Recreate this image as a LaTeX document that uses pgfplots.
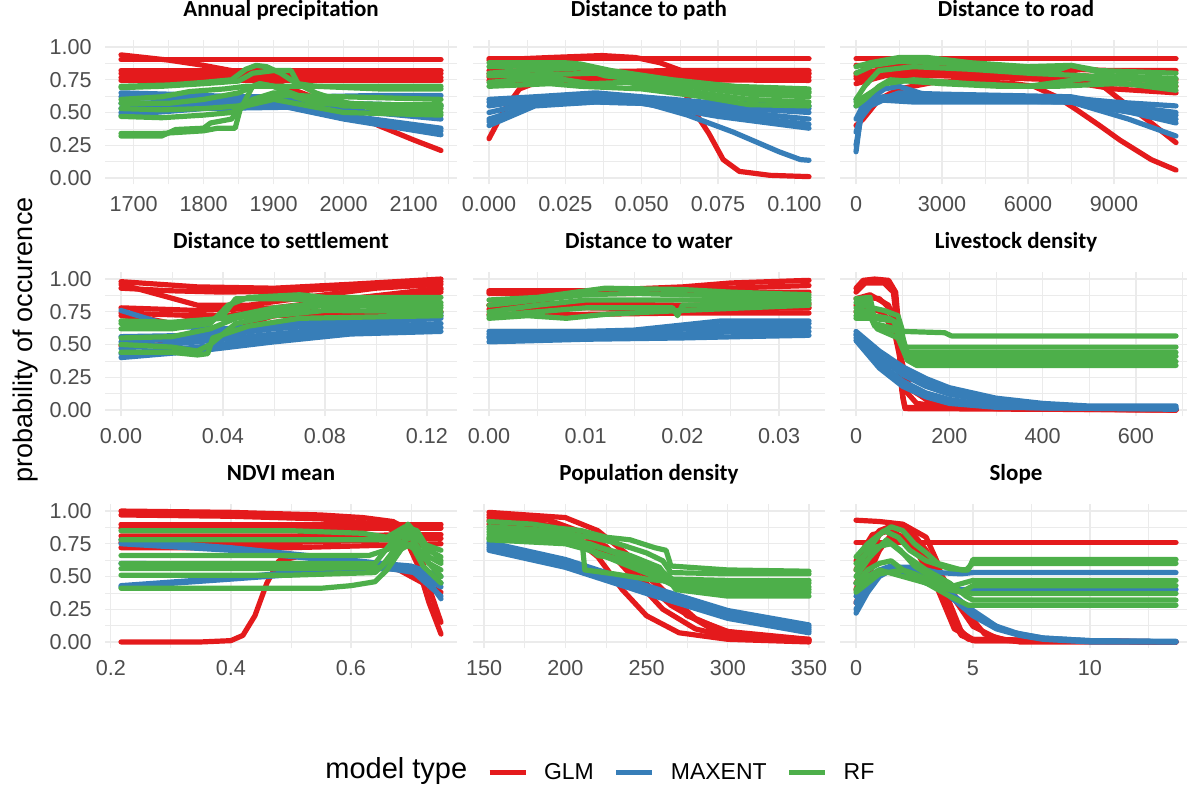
\documentclass[border=0pt]{standalone}
\usepackage{fontspec}
\setmainfont{Liberation Sans}
\newfontfamily\carlito{Carlito}
\usepackage{pgfplots}
\pgfplotsset{compat=1.18}
\definecolor{glmred}{HTML}{E41A1C}
\definecolor{mxblue}{HTML}{377EB8}
\definecolor{rfgreen}{HTML}{4DAF4A}
\definecolor{gridc}{HTML}{EBEBEB}
\definecolor{tickc}{HTML}{4D4D4D}
\pgfplotsset{
 facet/.style={
  width=176pt,height=72pt,scale only axis,anchor=south west,
  axis line style={draw=none}, tick style={draw=none},
  scaled x ticks=false, scaled y ticks=false,
  ymin=-0.05,ymax=1.05,
  ytick={0,0.25,0.5,0.75,1}, minor ytick={0.125,0.375,0.625,0.875},
  yticklabels={},
  grid=both,
  major grid style={draw=gridc,line width=0.65pt},
  minor grid style={draw=gridc,line width=0.35pt},
  xticklabel style={font=\fontsize{10.8}{11}\selectfont,text=tickc,anchor=base,inner sep=0pt,yshift=-13.4pt},
  yticklabel style={font=\fontsize{10.8}{11}\selectfont,text=tickc,anchor=east,inner sep=0pt,xshift=-6.5pt},
  title style={font=\carlito\bfseries\fontsize{11.5}{12}\selectfont,at={(0.5,1)},anchor=base,yshift=5.75pt,inner sep=0pt},
  every axis plot/.append style={line width=2.6pt,line join=round,line cap=round,mark=none},
 },
 ylab/.style={yticklabels={0.00,0.25,0.50,0.75,1.00}},
 glm/.style={draw=glmred},
 mx/.style={draw=mxblue},
 rf/.style={draw=rfgreen},
}
\begin{document}
\begin{tikzpicture}
\useasboundingbox (0,0) rectangle (593.5pt,395.5pt);
% ---------- Panel 1: Annual precipitation ----------
\begin{axis}[facet,ylab,at={(52.5pt,303.25pt)},title={Annual precipitation},
 xmin=1659.15,xmax=2161.85,xtick={1700,1800,1900,2000,2100},xticklabels={1700,1800,1900,2000,2100},
 minor xtick={1650,1750,1850,1950,2050,2150}]
\addplot[glm] coordinates {(1682,0.905)(2139,0.905)};
\addplot[glm] coordinates {(1682,0.82)(2139,0.82)};
\addplot[glm] coordinates {(1682,0.795)(2139,0.795)};
\addplot[glm] coordinates {(1682,0.77)(2139,0.77)};
\addplot[glm] coordinates {(1682,0.745)(2139,0.745)};
\addplot[glm] coordinates {(1682,0.94)(1750,0.90)(1800,0.86)(1850,0.81)(1900,0.73)(1950,0.63)(2000,0.52)(2050,0.40)(2100,0.29)(2139,0.21)};
\addplot[mx] coordinates {(1682,0.65)(1750,0.64)(1850,0.62)(1950,0.62)(2050,0.63)(2139,0.63)};
\addplot[mx] coordinates {(1682,0.62)(1800,0.60)(1900,0.60)(2000,0.57)(2139,0.55)};
\addplot[mx] coordinates {(1682,0.57)(1800,0.58)(1900,0.58)(2000,0.52)(2139,0.45)};
\addplot[mx] coordinates {(1682,0.53)(1800,0.56)(1920,0.56)(2000,0.48)(2139,0.38)};
\addplot[mx] coordinates {(1682,0.48)(1800,0.53)(1920,0.54)(2000,0.45)(2139,0.33)};
\addplot[mx] coordinates {(1682,0.50)(1850,0.55)(1930,0.55)(2050,0.42)(2139,0.36)};
\addplot[rf] coordinates {(1682,0.70)(1750,0.71)(1800,0.73)(1840,0.75)(1860,0.83)(1875,0.86)(1890,0.85)(1910,0.80)(1930,0.73)(1960,0.65)(2000,0.58)(2050,0.52)(2139,0.50)};
\addplot[rf] coordinates {(1682,0.69)(1740,0.70)(1800,0.72)(1850,0.74)(1870,0.80)(1900,0.82)(1925,0.82)(1935,0.72)(1960,0.70)(2050,0.68)(2139,0.68)};
\addplot[rf] coordinates {(1682,0.60)(1740,0.62)(1780,0.66)(1830,0.68)(1860,0.70)(1900,0.70)(2000,0.70)(2139,0.70)};
\addplot[rf] coordinates {(1682,0.57)(1750,0.57)(1800,0.60)(1850,0.65)(1880,0.72)(1900,0.70)(1930,0.62)(1960,0.57)(2000,0.56)(2139,0.56)};
\addplot[rf] coordinates {(1682,0.53)(1740,0.52)(1800,0.53)(1850,0.55)(1880,0.60)(1920,0.63)(2000,0.62)(2139,0.60)};
\addplot[rf] coordinates {(1682,0.47)(1740,0.46)(1800,0.48)(1840,0.50)(1860,0.55)(1900,0.60)(1950,0.55)(2000,0.50)(2139,0.48)};
\addplot[rf] coordinates {(1682,0.32)(1740,0.32)(1760,0.37)(1800,0.38)(1810,0.42)(1840,0.45)(1850,0.53)(1870,0.60)(1900,0.65)(1950,0.62)(2000,0.57)(2139,0.55)};
\addplot[rf] coordinates {(1682,0.34)(1740,0.34)(1800,0.36)(1820,0.38)(1845,0.38)(1852,0.52)(1870,0.70)(1880,0.72)(1900,0.70)(1940,0.62)(2000,0.55)(2139,0.53)};
\end{axis}
% ---------- Panel 2: Distance to path ----------
\begin{axis}[facet,at={(236.5pt,303.25pt)},title={Distance to path},
 xmin=-0.00524,xmax=0.11004,xtick={0,0.025,0.05,0.075,0.1},xticklabels={0.000,0.025,0.050,0.075,0.100},
 minor xtick={0.0125,0.0375,0.0625,0.0875}]
\addplot[glm] coordinates {(0,0.91)(0.1048,0.91)};
\addplot[glm] coordinates {(0,0.90)(0.02,0.92)(0.037,0.935)(0.048,0.92)(0.056,0.88)(0.063,0.82)(0.07,0.80)(0.1048,0.80)};
\addplot[glm] coordinates {(0,0.82)(0.03,0.81)(0.06,0.82)(0.1048,0.82)};
\addplot[glm] coordinates {(0,0.795)(0.03,0.79)(0.06,0.80)(0.1048,0.795)};
\addplot[glm] coordinates {(0,0.77)(0.025,0.765)(0.05,0.775)(0.1048,0.77)};
\addplot[glm] coordinates {(0,0.745)(0.03,0.745)(0.06,0.75)(0.1048,0.745)};
\addplot[glm] coordinates {(0,0.30)(0.005,0.52)(0.01,0.68)(0.02,0.77)(0.035,0.80)(0.05,0.78)(0.06,0.72)(0.065,0.62)(0.0675,0.50)(0.072,0.34)(0.0767,0.14)(0.082,0.05)(0.092,0.02)(0.1048,0.01)};
\addplot[mx] coordinates {(0,0.60)(0.015,0.62)(0.035,0.65)(0.05,0.62)(0.07,0.58)(0.1048,0.55)};
\addplot[mx] coordinates {(0,0.58)(0.015,0.61)(0.035,0.64)(0.05,0.61)(0.07,0.57)(0.1048,0.53)};
\addplot[mx] coordinates {(0,0.55)(0.015,0.60)(0.035,0.63)(0.05,0.60)(0.07,0.55)(0.1048,0.50)};
\addplot[mx] coordinates {(0,0.50)(0.015,0.58)(0.035,0.60)(0.05,0.58)(0.075,0.52)(0.1048,0.45)};
\addplot[mx] coordinates {(0,0.45)(0.015,0.56)(0.035,0.58)(0.05,0.57)(0.075,0.49)(0.1048,0.41)};
\addplot[mx] coordinates {(0,0.40)(0.015,0.55)(0.035,0.58)(0.05,0.57)(0.075,0.47)(0.1048,0.38)};
\addplot[mx] coordinates {(0,0.43)(0.015,0.56)(0.035,0.60)(0.05,0.58)(0.065,0.48)(0.08,0.35)(0.095,0.20)(0.102,0.14)(0.1048,0.135)};
\addplot[rf] coordinates {(0,0.88)(0.025,0.88)(0.03,0.87)(0.04,0.82)(0.06,0.75)(0.08,0.70)(0.1048,0.68)};
\addplot[rf] coordinates {(0,0.85)(0.02,0.86)(0.033,0.85)(0.04,0.80)(0.05,0.76)(0.07,0.72)(0.1048,0.65)};
\addplot[rf] coordinates {(0,0.80)(0.01,0.82)(0.03,0.84)(0.038,0.78)(0.05,0.75)(0.065,0.70)(0.085,0.64)(0.1048,0.62)};
\addplot[rf] coordinates {(0,0.78)(0.02,0.79)(0.035,0.80)(0.05,0.74)(0.07,0.70)(0.09,0.66)(0.1048,0.66)};
\addplot[rf] coordinates {(0,0.73)(0.01,0.75)(0.025,0.75)(0.033,0.72)(0.045,0.73)(0.06,0.68)(0.085,0.60)(0.1048,0.58)};
\addplot[rf] coordinates {(0,0.70)(0.02,0.72)(0.03,0.70)(0.05,0.68)(0.07,0.62)(0.085,0.56)(0.1048,0.55)};
\end{axis}
% ---------- Panel 3: Distance to road ----------
\begin{axis}[facet,at={(420pt,303.25pt)},title={Distance to road},
 xmin=-558,xmax=11721,xtick={0,3000,6000,9000},xticklabels={0,3000,6000,9000},
 minor xtick={1500,4500,7500,10500}]
\addplot[glm] coordinates {(0,0.91)(11163,0.91)};
\addplot[glm] coordinates {(0,0.86)(2000,0.86)(6000,0.84)(9000,0.82)(11163,0.82)};
\addplot[glm] coordinates {(0,0.80)(1500,0.84)(4000,0.82)(7000,0.80)(9000,0.76)(11163,0.75)};
\addplot[glm] coordinates {(0,0.76)(1000,0.80)(3000,0.80)(6000,0.78)(9000,0.72)(11163,0.70)};
\addplot[glm] coordinates {(0,0.72)(1000,0.78)(3000,0.78)(7000,0.75)(9000,0.68)(11163,0.65)};
\addplot[glm] coordinates {(0,0.78)(1000,0.83)(3000,0.84)(6000,0.80)(7500,0.80)(8500,0.72)(9200,0.60)(10300,0.42)(11163,0.27)};
\addplot[glm] coordinates {(0,0.40)(250,0.45)(800,0.60)(1500,0.68)(2700,0.73)(4000,0.74)(5500,0.72)(6200,0.70)(7000,0.62)(7700,0.52)(8500,0.40)(9200,0.29)(10300,0.14)(11163,0.06)};
\addplot[mx] coordinates {(0,0.20)(150,0.45)(500,0.55)(1000,0.60)(2000,0.62)(7000,0.62)(9000,0.58)(11163,0.55)};
\addplot[mx] coordinates {(0,0.25)(200,0.50)(600,0.58)(1500,0.65)(3000,0.64)(7500,0.62)(9000,0.56)(11163,0.50)};
\addplot[mx] coordinates {(0,0.35)(300,0.55)(1000,0.62)(2500,0.60)(7500,0.58)(9000,0.52)(11163,0.45)};
\addplot[mx] coordinates {(0,0.45)(300,0.58)(1000,0.68)(1500,0.70)(2500,0.63)(7500,0.60)(9000,0.55)(11163,0.48)};
\addplot[mx] coordinates {(0,0.55)(500,0.60)(2000,0.58)(7500,0.58)(9500,0.45)(11163,0.32)};
\addplot[mx] coordinates {(0,0.60)(1000,0.62)(3000,0.60)(7500,0.58)(9000,0.53)(11163,0.42)};
\addplot[rf] coordinates {(0,0.85)(500,0.88)(1500,0.92)(2500,0.92)(4000,0.88)(6000,0.85)(7500,0.86)(8500,0.82)(11163,0.80)};
\addplot[rf] coordinates {(0,0.80)(600,0.86)(1500,0.89)(3000,0.88)(5000,0.84)(7000,0.82)(7500,0.86)(9000,0.78)(11163,0.76)};
\addplot[rf] coordinates {(0,0.60)(300,0.70)(800,0.82)(2000,0.85)(4000,0.83)(6000,0.80)(8000,0.78)(11163,0.73)};
\addplot[rf] coordinates {(0,0.55)(300,0.60)(800,0.70)(1200,0.75)(3000,0.72)(5000,0.70)(7000,0.70)(9000,0.72)(11163,0.70)};
\addplot[rf] coordinates {(0,0.58)(500,0.65)(1000,0.72)(2000,0.75)(4000,0.72)(6000,0.70)(8000,0.76)(11163,0.67)};
\end{axis}
% ---------- Panel 4: Distance to settlement ----------
\begin{axis}[facet,ylab,at={(52.5pt,187.25pt)},title={Distance to settlement},
 xmin=-0.006275,xmax=0.131775,xtick={0,0.04,0.08,0.12},xticklabels={0.00,0.04,0.08,0.12},
 minor xtick={0.02,0.06,0.10}]
\addplot[glm] coordinates {(0,0.98)(0.03,0.94)(0.06,0.93)(0.09,0.96)(0.1255,1.0)};
\addplot[glm] coordinates {(0,0.93)(0.02,0.91)(0.04,0.90)(0.07,0.91)(0.1,0.95)(0.1255,0.98)};
\addplot[glm] coordinates {(0,0.96)(0.015,0.88)(0.03,0.80)(0.05,0.80)(0.08,0.88)(0.1,0.93)(0.1255,0.96)};
\addplot[glm] coordinates {(0,0.78)(0.03,0.76)(0.06,0.78)(0.09,0.85)(0.1255,0.93)};
\addplot[glm] coordinates {(0,0.74)(0.03,0.72)(0.06,0.72)(0.09,0.73)(0.1255,0.75)};
\addplot[glm] coordinates {(0,0.72)(0.01,0.70)(0.02,0.66)(0.03,0.70)(0.05,0.74)(0.08,0.82)(0.1255,0.90)};
\addplot[glm] coordinates {(0,0.49)(0.02,0.50)(0.04,0.60)(0.06,0.72)(0.09,0.85)(0.1255,0.92)};
\addplot[mx] coordinates {(0,0.40)(0.03,0.45)(0.06,0.52)(0.09,0.58)(0.1255,0.60)};
\addplot[mx] coordinates {(0,0.43)(0.03,0.48)(0.06,0.55)(0.09,0.60)(0.1255,0.63)};
\addplot[mx] coordinates {(0,0.47)(0.03,0.52)(0.06,0.58)(0.09,0.63)(0.1255,0.66)};
\addplot[mx] coordinates {(0,0.52)(0.03,0.55)(0.06,0.62)(0.09,0.66)(0.1255,0.70)};
\addplot[mx] coordinates {(0,0.56)(0.03,0.57)(0.06,0.65)(0.09,0.68)(0.1255,0.72)};
\addplot[mx] coordinates {(0,0.76)(0.01,0.70)(0.02,0.64)(0.04,0.62)(0.07,0.66)(0.1255,0.74)};
\addplot[rf] coordinates {(0,0.62)(0.02,0.62)(0.035,0.66)(0.042,0.80)(0.05,0.86)(0.07,0.88)(0.08,0.86)(0.1,0.86)(0.1255,0.86)};
\addplot[rf] coordinates {(0,0.66)(0.02,0.64)(0.03,0.65)(0.04,0.72)(0.045,0.85)(0.06,0.85)(0.08,0.84)(0.1255,0.82)};
\addplot[rf] coordinates {(0,0.55)(0.02,0.56)(0.035,0.62)(0.045,0.70)(0.06,0.75)(0.08,0.80)(0.1255,0.78)};
\addplot[rf] coordinates {(0,0.50)(0.02,0.48)(0.03,0.45)(0.035,0.50)(0.045,0.66)(0.06,0.72)(0.08,0.76)(0.1255,0.75)};
\addplot[rf] coordinates {(0,0.44)(0.02,0.44)(0.03,0.42)(0.034,0.43)(0.036,0.55)(0.05,0.64)(0.07,0.70)(0.1255,0.72)};
\addplot[rf] coordinates {(0,0.68)(0.02,0.67)(0.04,0.70)(0.06,0.78)(0.08,0.82)(0.1255,0.80)};
\end{axis}
% ---------- Panel 5: Distance to water ----------
\begin{axis}[facet,at={(236.5pt,187.25pt)},title={Distance to water},
 xmin=-0.001655,xmax=0.034755,xtick={0,0.01,0.02,0.03},xticklabels={0.00,0.01,0.02,0.03},
 minor xtick={0.005,0.015,0.025}]
\addplot[glm] coordinates {(0,0.91)(0.01,0.91)(0.02,0.94)(0.025,0.97)(0.0331,0.99)};
\addplot[glm] coordinates {(0,0.90)(0.01,0.90)(0.02,0.92)(0.0331,0.95)};
\addplot[glm] coordinates {(0,0.89)(0.015,0.89)(0.025,0.90)(0.0331,0.90)};
\addplot[glm] coordinates {(0,0.80)(0.01,0.81)(0.02,0.80)(0.0331,0.81)};
\addplot[glm] coordinates {(0,0.77)(0.01,0.78)(0.02,0.77)(0.0331,0.78)};
\addplot[glm] coordinates {(0,0.73)(0.01,0.73)(0.02,0.74)(0.0331,0.74)};
\addplot[glm] coordinates {(0,0.80)(0.005,0.82)(0.012,0.78)(0.02,0.78)(0.0331,0.78)};
\addplot[mx] coordinates {(0,0.52)(0.01,0.54)(0.02,0.55)(0.026,0.56)(0.0331,0.57)};
\addplot[mx] coordinates {(0,0.55)(0.01,0.56)(0.02,0.58)(0.026,0.60)(0.0331,0.60)};
\addplot[mx] coordinates {(0,0.58)(0.01,0.58)(0.016,0.59)(0.025,0.65)(0.0331,0.66)};
\addplot[mx] coordinates {(0,0.60)(0.01,0.60)(0.015,0.61)(0.024,0.68)(0.0331,0.68)};
\addplot[mx] coordinates {(0,0.56)(0.015,0.58)(0.02,0.62)(0.0331,0.63)};
\addplot[rf] coordinates {(0,0.84)(0.005,0.86)(0.009,0.90)(0.012,0.93)(0.02,0.92)(0.025,0.90)(0.0331,0.88)};
\addplot[rf] coordinates {(0,0.80)(0.005,0.84)(0.01,0.88)(0.015,0.89)(0.02,0.88)(0.0331,0.86)};
\addplot[rf] coordinates {(0,0.75)(0.005,0.80)(0.01,0.84)(0.02,0.84)(0.0331,0.84)};
\addplot[rf] coordinates {(0,0.72)(0.005,0.75)(0.01,0.78)(0.019,0.78)(0.0195,0.72)(0.02,0.80)(0.0331,0.82)};
\addplot[rf] coordinates {(0,0.70)(0.004,0.72)(0.008,0.70)(0.012,0.73)(0.02,0.76)(0.0331,0.80)};
\end{axis}
% ---------- Panel 6: Livestock density ----------
\begin{axis}[facet,at={(420pt,187.25pt)},title={Livestock density},
 xmin=-34.3,xmax=720.3,xtick={0,200,400,600},xticklabels={0,200,400,600},
 minor xtick={100,300,500,700}]
\addplot[glm] coordinates {(0,0.93)(15,0.99)(40,1.0)(70,0.99)(85,0.90)(95,0.50)(100,0.10)(105,0.01)(686,0.0)};
\addplot[glm] coordinates {(0,0.90)(20,0.97)(60,0.97)(80,0.90)(90,0.60)(98,0.15)(105,0.02)(686,0.0)};
\addplot[glm] coordinates {(0,0.80)(20,0.86)(50,0.85)(80,0.75)(95,0.40)(105,0.15)(130,0.05)(200,0.02)(686,0.0)};
\addplot[glm] coordinates {(0,0.75)(30,0.78)(60,0.74)(85,0.55)(100,0.30)(120,0.15)(160,0.06)(300,0.01)(686,0.0)};
\addplot[glm] coordinates {(0,0.85)(30,0.88)(70,0.80)(90,0.50)(110,0.20)(150,0.08)(250,0.03)(450,0.005)(686,0.0)};
\addplot[mx] coordinates {(0,0.60)(50,0.45)(100,0.33)(150,0.24)(200,0.17)(300,0.09)(400,0.05)(500,0.03)(686,0.03)};
\addplot[mx] coordinates {(0,0.57)(50,0.40)(100,0.27)(150,0.18)(200,0.12)(300,0.06)(400,0.03)(500,0.02)(686,0.02)};
\addplot[mx] coordinates {(0,0.55)(50,0.36)(100,0.22)(150,0.13)(200,0.08)(300,0.03)(400,0.015)(686,0.01)};
\addplot[mx] coordinates {(0,0.53)(50,0.32)(100,0.18)(150,0.10)(200,0.05)(300,0.02)(686,0.005)};
\addplot[mx] coordinates {(0,0.58)(30,0.48)(60,0.38)(100,0.30)(150,0.21)(250,0.10)(400,0.03)(686,0.01)};
\addplot[rf] coordinates {(0,0.85)(30,0.86)(35,0.78)(60,0.76)(90,0.72)(100,0.60)(190,0.59)(205,0.565)(686,0.565)};
\addplot[rf] coordinates {(0,0.82)(30,0.83)(38,0.72)(70,0.70)(95,0.65)(105,0.48)(686,0.48)};
\addplot[rf] coordinates {(0,0.78)(25,0.80)(35,0.70)(80,0.68)(100,0.55)(110,0.44)(686,0.44)};
\addplot[rf] coordinates {(0,0.75)(30,0.76)(40,0.66)(85,0.62)(105,0.45)(115,0.41)(686,0.41)};
\addplot[rf] coordinates {(0,0.72)(30,0.72)(40,0.64)(90,0.60)(108,0.40)(120,0.37)(686,0.37)};
\addplot[rf] coordinates {(0,0.70)(35,0.70)(45,0.62)(90,0.55)(110,0.38)(130,0.34)(686,0.34)};
\end{axis}
% ---------- Panel 7: NDVI mean ----------
\begin{axis}[facet,ylab,at={(52.5pt,71.25pt)},title={NDVI mean},
 xmin=0.19035,xmax=0.77665,xtick={0.2,0.4,0.6},xticklabels={0.2,0.4,0.6},
 minor xtick={0.3,0.5,0.7}]
\addplot[glm] coordinates {(0.217,1.0)(0.4,0.99)(0.55,0.97)(0.62,0.95)(0.67,0.92)(0.70,0.85)(0.72,0.60)(0.735,0.35)(0.75,0.15)};
\addplot[glm] coordinates {(0.217,0.97)(0.4,0.96)(0.55,0.94)(0.65,0.90)(0.69,0.80)(0.71,0.60)(0.73,0.30)(0.75,0.06)};
\addplot[glm] coordinates {(0.217,0.90)(0.5,0.90)(0.75,0.90)};
\addplot[glm] coordinates {(0.217,0.87)(0.5,0.87)(0.75,0.87)};
\addplot[glm] coordinates {(0.217,0.81)(0.5,0.81)(0.75,0.82)};
\addplot[glm] coordinates {(0.217,0.76)(0.5,0.76)(0.75,0.79)};
\addplot[glm] coordinates {(0.217,0.72)(0.5,0.72)(0.75,0.75)};
\addplot[glm] coordinates {(0.217,0.0)(0.35,0.0)(0.40,0.01)(0.42,0.05)(0.44,0.20)(0.46,0.45)(0.48,0.62)(0.52,0.66)(0.6,0.62)(0.68,0.55)(0.72,0.45)(0.75,0.38)};
\addplot[mx] coordinates {(0.217,0.78)(0.4,0.72)(0.55,0.65)(0.65,0.60)(0.70,0.58)(0.75,0.50)};
\addplot[mx] coordinates {(0.217,0.75)(0.4,0.70)(0.55,0.63)(0.65,0.59)(0.70,0.56)(0.75,0.42)};
\addplot[mx] coordinates {(0.217,0.42)(0.4,0.48)(0.55,0.53)(0.65,0.56)(0.70,0.55)(0.75,0.35)};
\addplot[mx] coordinates {(0.217,0.43)(0.4,0.49)(0.55,0.55)(0.65,0.57)(0.72,0.52)(0.75,0.33)};
\addplot[mx] coordinates {(0.217,0.60)(0.5,0.59)(0.65,0.58)(0.72,0.55)(0.75,0.45)};
\addplot[rf] coordinates {(0.217,0.85)(0.5,0.85)(0.62,0.83)(0.66,0.80)(0.69,0.88)(0.71,0.85)(0.73,0.70)(0.75,0.65)};
\addplot[rf] coordinates {(0.217,0.78)(0.5,0.78)(0.66,0.78)(0.70,0.82)(0.73,0.72)(0.75,0.62)};
\addplot[rf] coordinates {(0.217,0.66)(0.5,0.66)(0.63,0.66)(0.67,0.72)(0.695,0.90)(0.71,0.82)(0.73,0.65)(0.75,0.60)};
\addplot[rf] coordinates {(0.217,0.60)(0.5,0.60)(0.64,0.60)(0.675,0.80)(0.70,0.86)(0.72,0.75)(0.75,0.70)};
\addplot[rf] coordinates {(0.217,0.56)(0.5,0.56)(0.65,0.57)(0.68,0.75)(0.70,0.80)(0.73,0.60)(0.75,0.55)};
\addplot[rf] coordinates {(0.217,0.51)(0.5,0.51)(0.64,0.53)(0.68,0.70)(0.70,0.75)(0.72,0.58)(0.75,0.45)};
\addplot[rf] coordinates {(0.217,0.41)(0.55,0.41)(0.60,0.43)(0.64,0.46)(0.66,0.55)(0.69,0.75)(0.71,0.70)(0.75,0.50)};
\end{axis}
% ---------- Panel 8: Population density ----------
\begin{axis}[facet,at={(236.5pt,71.25pt)},title={Population density},
 xmin=143.15,xmax=359.85,xtick={150,200,250,300,350},xticklabels={150,200,250,300,350},
 minor xtick={175,225,275,325}]
\addplot[glm] coordinates {(153,0.99)(200,0.95)(220,0.85)(240,0.65)(260,0.40)(280,0.18)(300,0.07)(320,0.03)(350,0.01)};
\addplot[glm] coordinates {(153,0.97)(190,0.93)(210,0.84)(230,0.65)(245,0.45)(260,0.25)(280,0.10)(300,0.04)(350,0.01)};
\addplot[glm] coordinates {(153,0.95)(180,0.92)(200,0.85)(220,0.65)(235,0.40)(250,0.20)(270,0.07)(300,0.02)(350,0.0)};
\addplot[glm] coordinates {(153,0.93)(200,0.88)(225,0.73)(245,0.50)(265,0.28)(290,0.10)(320,0.04)(350,0.02)};
\addplot[glm] coordinates {(153,0.90)(190,0.88)(200,0.78)(215,0.76)(222,0.68)(240,0.60)(255,0.45)(275,0.20)(300,0.08)(350,0.02)};
\addplot[mx] coordinates {(153,0.76)(200,0.63)(250,0.43)(300,0.24)(350,0.13)};
\addplot[mx] coordinates {(153,0.75)(200,0.61)(250,0.41)(300,0.22)(350,0.115)};
\addplot[mx] coordinates {(153,0.73)(200,0.60)(250,0.40)(300,0.21)(350,0.10)};
\addplot[mx] coordinates {(153,0.715)(200,0.585)(250,0.385)(300,0.195)(350,0.085)};
\addplot[mx] coordinates {(153,0.70)(200,0.57)(250,0.37)(300,0.18)(350,0.07)};
\addplot[rf] coordinates {(153,0.92)(180,0.90)(195,0.87)(210,0.85)(225,0.80)(240,0.78)(255,0.72)(262,0.70)(265,0.58)(300,0.55)(350,0.54)};
\addplot[rf] coordinates {(153,0.88)(180,0.86)(200,0.83)(215,0.80)(230,0.76)(250,0.68)(260,0.62)(265,0.53)(300,0.52)(350,0.52)};
\addplot[rf] coordinates {(153,0.86)(200,0.80)(215,0.74)(240,0.66)(258,0.57)(268,0.40)(300,0.35)(350,0.35)};
\addplot[rf] coordinates {(153,0.84)(190,0.82)(210,0.80)(212,0.55)(230,0.52)(250,0.48)(265,0.46)(300,0.45)(350,0.45)};
\addplot[rf] coordinates {(153,0.82)(195,0.80)(215,0.75)(235,0.66)(255,0.58)(266,0.48)(300,0.47)(350,0.47)};
\addplot[rf] coordinates {(153,0.80)(190,0.78)(210,0.76)(220,0.66)(240,0.62)(255,0.55)(265,0.45)(300,0.42)(350,0.42)};
\addplot[rf] coordinates {(153,0.79)(200,0.76)(220,0.68)(245,0.58)(262,0.46)(272,0.40)(300,0.40)(350,0.40)};
\addplot[rf] coordinates {(153,0.78)(200,0.75)(215,0.70)(235,0.60)(255,0.50)(270,0.42)(300,0.38)(350,0.38)};
\end{axis}
% ---------- Panel 9: Slope ----------
\begin{axis}[facet,at={(420pt,71.25pt)},title={Slope},
 xmin=-0.684,xmax=14.364,xtick={0,5,10},xticklabels={0,5,10},
 minor xtick={2.5,7.5,12.5}]
\addplot[glm] coordinates {(0,0.76)(13.68,0.76)};
\addplot[glm] coordinates {(0,0.93)(1,0.92)(2,0.90)(3,0.80)(3.5,0.60)(4,0.30)(4.5,0.08)(5,0.01)(13.68,0.0)};
\addplot[glm] coordinates {(0,0.40)(0.5,0.65)(1,0.82)(1.5,0.88)(2,0.88)(2.5,0.80)(3,0.65)(3.5,0.45)(4,0.20)(4.5,0.05)(5,0.01)(13.68,0.0)};
\addplot[glm] coordinates {(0,0.55)(0.5,0.75)(1,0.85)(1.7,0.90)(2.3,0.86)(3,0.70)(3.7,0.45)(4.2,0.15)(4.8,0.02)(13.68,0.0)};
\addplot[glm] coordinates {(0,0.30)(0.5,0.50)(1,0.70)(1.5,0.82)(2.2,0.80)(3,0.62)(4,0.38)(5,0.12)(6,0.03)(7,0.0)(13.68,0.0)};
\addplot[glm] coordinates {(0,0.62)(0.7,0.82)(1.5,0.85)(2.5,0.75)(3.5,0.55)(4.5,0.28)(5.5,0.06)(6.5,0.01)(13.68,0.0)};
\addplot[glm] coordinates {(0,0.45)(1,0.72)(1.8,0.80)(2.5,0.72)(3.5,0.40)(4.2,0.10)(5,0.02)(13.68,0.0)};
\addplot[mx] coordinates {(0,0.22)(0.5,0.38)(1,0.50)(1.5,0.55)(2,0.55)(3,0.48)(4,0.35)(5,0.20)(6,0.10)(7,0.05)(8,0.02)(10,0.0)(13.68,0.0)};
\addplot[mx] coordinates {(0,0.25)(0.5,0.42)(1,0.52)(1.5,0.57)(2,0.56)(3,0.50)(4,0.38)(5,0.24)(6,0.12)(7,0.06)(8,0.03)(10,0.01)(13.68,0.0)};
\addplot[mx] coordinates {(0,0.30)(0.5,0.45)(1,0.55)(1.5,0.58)(2.5,0.55)(3.5,0.45)(4.5,0.30)(5.5,0.16)(6.5,0.08)(8,0.03)(10,0.01)(13.68,0.005)};
\addplot[mx] coordinates {(0,0.35)(0.7,0.50)(1.5,0.57)(2.5,0.57)(3.5,0.53)(4.5,0.52)(5,0.53)(13.68,0.53)};
\addplot[mx] coordinates {(0,0.45)(1,0.55)(2,0.52)(3,0.45)(4,0.40)(5,0.40)(13.68,0.40)};
\addplot[rf] coordinates {(0,0.55)(0.5,0.70)(1,0.82)(1.5,0.88)(2,0.85)(2.5,0.75)(3,0.68)(3.5,0.60)(4.5,0.55)(4.8,0.55)(5,0.63)(13.68,0.63)};
\addplot[rf] coordinates {(0,0.65)(0.5,0.75)(1.2,0.85)(1.8,0.80)(2.3,0.70)(3,0.62)(4,0.56)(4.7,0.55)(5,0.60)(13.68,0.60)};
\addplot[rf] coordinates {(0,0.50)(0.6,0.65)(1.3,0.78)(1.9,0.70)(2.5,0.58)(3,0.52)(3.5,0.46)(4,0.42)(5,0.47)(13.68,0.47)};
\addplot[rf] coordinates {(0,0.45)(0.5,0.55)(1,0.60)(1.5,0.62)(2,0.55)(2.5,0.52)(3,0.48)(3.5,0.45)(4,0.40)(4.5,0.38)(5,0.43)(13.68,0.43)};
\addplot[rf] coordinates {(0,0.40)(0.5,0.50)(1,0.55)(2,0.50)(3,0.45)(4,0.40)(5,0.37)(13.68,0.37)};
\addplot[rf] coordinates {(0,0.60)(0.7,0.72)(1.5,0.75)(2.2,0.65)(3,0.55)(4,0.45)(4.7,0.35)(5,0.32)(13.68,0.32)};
\addplot[rf] coordinates {(0,0.38)(1,0.52)(2,0.55)(3,0.45)(4,0.35)(4.8,0.28)(13.68,0.28)};
\end{axis}
% ---------- Legend ----------
\begin{axis}[hide axis,scale only axis,width=593.5pt,height=395.5pt,anchor=south west,at={(0pt,0pt)},
 xmin=0,xmax=1,ymin=0,ymax=1,
 legend columns=-1,
 legend image code/.code={\draw[#1,line width=2.5pt,line cap=butt] (0pt,0pt)--(18pt,0pt);},
 legend style={at={(0.4103,0.02276)},anchor=west,draw=none,fill=none,inner sep=0pt,outer sep=0pt,
   font=\fontsize{11.5}{12}\selectfont,nodes={inner sep=0pt},
   /tikz/every odd column/.append style={column sep=8pt},
   /tikz/every even column/.append style={column sep=10pt}}]
\addlegendimage{draw=glmred}\addlegendentry{GLM}
\addlegendimage{draw=mxblue}\addlegendentry{MAXENT}
\addlegendimage{draw=rfgreen}\addlegendentry{RF}
\end{axis}
\node[anchor=mid west,inner sep=0pt,font=\fontsize{14.5}{15}\selectfont] at (162.5pt,9pt) {model type};
\node[rotate=90,anchor=base,inner sep=0pt,font=\fontsize{13.5}{14}\selectfont] at (16.5pt,225.5pt) {probability of occurence};
\end{tikzpicture}
\end{document}
